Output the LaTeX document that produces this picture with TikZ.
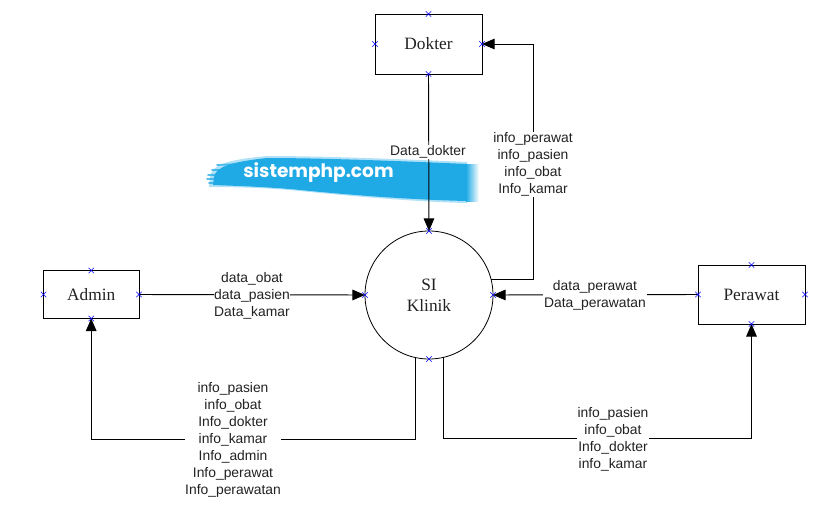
\documentclass[tikz,border=0pt]{standalone}
\usepackage{fontspec}
\setmainfont{Liberation Serif}
\setsansfont{Liberation Sans}
\newfontfamily\brushfont{Poppins}[BoldFont={Poppins Bold}]
\usetikzlibrary{arrows.meta,shapes.misc,shapes.geometric}
\definecolor{brushblue}{HTML}{1FAAE6}
\definecolor{inktext}{HTML}{222222}
\tikzset{
  entity/.style={draw=black,line width=0.6pt,rectangle,outer sep=0pt,inner sep=0pt,font=\fontsize{13}{15}\selectfont,text=inktext},
  process/.style={draw=black,line width=0.6pt,circle,outer sep=0pt,inner sep=0pt,minimum size=96pt,align=center,font=\fontsize{13}{15.5}\selectfont,text=inktext},
  flow/.style={line width=0.7pt,-{Triangle[length=9.5pt,width=8pt]}},
  flowlabel/.style={fill=white,inner sep=0.5pt,align=center,text=inktext,font=\sffamily\fontsize{10.4}{12.75}\selectfont},
  portmark/.style={cross out,draw=blue,line width=0.4pt,minimum size=4pt,inner sep=0pt,outer sep=0pt},
  streak/.style={draw=brushblue,line width=1.3pt,opacity=0.75,line cap=round}
}
\begin{document}
\begin{tikzpicture}[x=0.75pt,y=-0.75pt]
\useasboundingbox (0,0) rectangle (836,507);
% brush watermark
\fill[brushblue,opacity=0.35] (210,177) .. controls (212,165) and (225,160) .. (267,156) .. controls (320,156) and (400,159) .. (467,162) -- (467,203) .. controls (420,202) and (360,197) .. (300,191) .. controls (270,188) and (240,187) .. (209,187) -- cycle;
\fill[brushblue] (214,177) .. controls (216,167) and (230,162) .. (267,158) .. controls (320,158) and (400,161) .. (467,164) -- (467,201) .. controls (420,200) and (360,196) .. (300,190) .. controls (270,187) and (240,186) .. (213,185) -- cycle;
\shade[left color=brushblue,right color=white] (466,164) rectangle (479,201);
\draw[streak] (217,165) -- (240,164);
\draw[streak] (212,170) -- (240,170);
\draw[streak] (208,175) -- (240,175);
\draw[streak] (207,179) -- (240,179);
\draw[streak] (209,183) -- (240,183);
\node[text=white,inner sep=0pt,font=\brushfont\bfseries\fontsize{13.9}{16}\selectfont] (brand) at (318.5,172.5) {sistemphp.com};
% nodes
\node[entity,minimum width=80.25pt,minimum height=45pt] (dokter) at (428.5,44) {Dokter};
\node[entity,minimum width=71.6pt,minimum height=36pt] (admin) at (91.2,294.5) {Admin};
\node[entity,minimum width=80.25pt,minimum height=44.25pt] (perawat) at (751.5,294.5) {Perawat};
\node[process] (klinik) at (429,295) {SI\\Klinik};
% connectors
\draw[flow] (dokter.south) -- (klinik.north);
\draw[flow] (admin.east) -- (klinik.west);
\draw[flow] (perawat.west) -- (klinik.east);
\draw[flow] (klinik.14.5) -- ++(42,0) |- (dokter.east);
\draw[flow] (klinik.-102.6) -- ++(0,81.5) -| (admin.south);
\draw[flow] (klinik.-77.4) -- ++(0,81) -| (perawat.south);
% port marks
\foreach \n in {dokter,admin,perawat,klinik}
  \foreach \a in {north,south,east,west}
    \node[portmark] (\n-\a) at (\n.\a) {};
% labels
\node[flowlabel] (ldokter) at (428,152) {Data\_dokter};
\node[flowlabel] (lfeedback) at (533,164.5) {info\_perawat\\info\_pasien\\info\_obat\\Info\_kamar};
\node[flowlabel] (ladmin) at (252,295.5) {data\_obat\\data\_pasien\\Data\_kamar};
\node[flowlabel] (lperawat) at (595,295) {data\_perawat\\Data\_perawatan};
\node[flowlabel] (linfoadmin) at (233,440) {info\_pasien\\info\_obat\\Info\_dokter\\info\_kamar\\Info\_admin\\Info\_perawat\\Info\_perawatan};
\node[flowlabel] (linfoperawat) at (613,439.5) {info\_pasien\\info\_obat\\Info\_dokter\\info\_kamar};
\end{tikzpicture}
\end{document}
